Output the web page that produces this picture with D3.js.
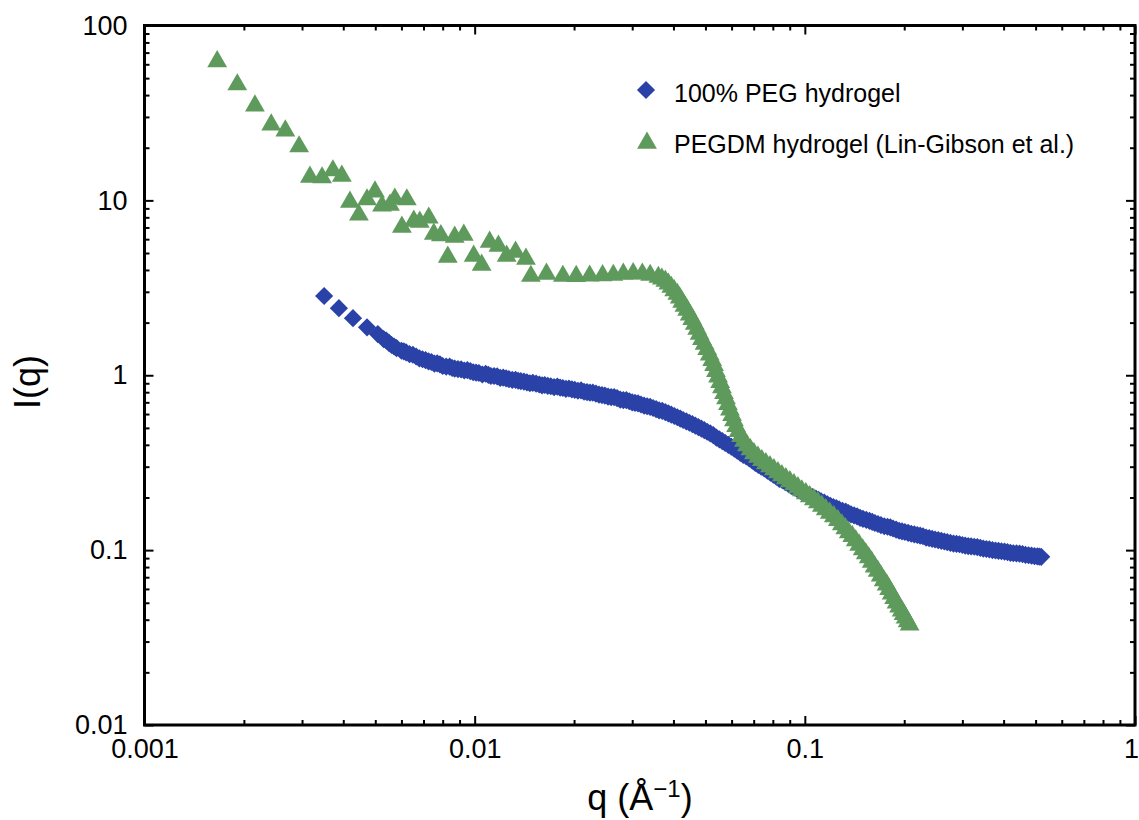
<!DOCTYPE html>
<html>
<head>
<meta charset="utf-8">
<script src="https://cdn.jsdelivr.net/npm/d3@7"></script>
<style>
  html, body { margin: 0; padding: 0; background: #ffffff; }
  svg { display: block; }
  text { font-family: "Liberation Sans", Arial, Helvetica, sans-serif; fill: #000; }
</style>
</head>
<body>
<svg id="chart" width="1139" height="820"></svg>
<script>
// ---------------- DATA ----------------
const seriesNames = ["100% PEG hydrogel", "PEGDM hydrogel (Lin-Gibson et al.)"];

const xTickValues = [0.001, 0.01, 0.1, 1];
const xTickLabels = ["0.001", "0.01", "0.1", "1"];
const yTickValues = [0.01, 0.1, 1, 10, 100];
const yTickLabels = ["0.01", "0.1", "1", "10", "100"];

// 100% PEG hydrogel (blue diamonds)
const pegQ = [0.0035, 0.00388, 0.00428, 0.00472, 0.00509, 0.0053, 0.0055, 0.0057, 0.0060, 0.0062,
  0.0065, 0.0068, 0.0071, 0.0074, 0.0077, 0.0080, 0.0084, 0.0087, 0.0091, 0.0095,
  0.0099, 0.0103, 0.0108, 0.0112, 0.0117, 0.0122, 0.0127, 0.0133, 0.0138, 0.0144,
  0.0150, 0.0157, 0.0163, 0.0170, 0.0178, 0.0185, 0.0193, 0.0201, 0.0210, 0.0219,
  0.0228, 0.0238, 0.0248, 0.0259, 0.0270, 0.0282, 0.0294, 0.0306, 0.0319, 0.0333,
  0.0347, 0.0362, 0.0378, 0.0394, 0.0411, 0.0428, 0.0447, 0.0466, 0.0486, 0.0506,
  0.0528, 0.0551, 0.0574, 0.0599, 0.0624, 0.0651, 0.0679, 0.0708, 0.0738, 0.0770,
  0.0803, 0.0837, 0.0873, 0.0910, 0.0949, 0.0990, 0.103, 0.108, 0.112, 0.117,
  0.122, 0.127, 0.133, 0.138, 0.144, 0.150, 0.157, 0.163, 0.170, 0.178,
  0.185, 0.193, 0.201, 0.210, 0.219, 0.228, 0.238, 0.248, 0.259, 0.270,
  0.282, 0.294, 0.306, 0.319, 0.333, 0.347, 0.362, 0.378, 0.394, 0.411,
  0.428, 0.447, 0.466, 0.486, 0.506, 0.52];
const pegI = [2.84, 2.42, 2.12, 1.88, 1.72, 1.61, 1.53, 1.46, 1.38, 1.35,
  1.31, 1.25, 1.22, 1.19, 1.17, 1.13, 1.12, 1.09, 1.08, 1.07,
  1.04, 1.03, 1.02, 0.99, 0.985, 0.97, 0.95, 0.94, 0.925, 0.91,
  0.905, 0.885, 0.88, 0.865, 0.86, 0.845, 0.84, 0.825, 0.82, 0.80,
  0.795, 0.775, 0.765, 0.75, 0.74, 0.72, 0.71, 0.695, 0.68, 0.665,
  0.65, 0.63, 0.615, 0.595, 0.575, 0.555, 0.535, 0.515, 0.495, 0.475,
  0.455, 0.43, 0.41, 0.39, 0.37, 0.35, 0.335, 0.315, 0.30, 0.285,
  0.27, 0.255, 0.245, 0.233, 0.223, 0.214, 0.206, 0.197, 0.19, 0.183,
  0.176, 0.171, 0.166, 0.16, 0.156, 0.151, 0.147, 0.143, 0.139, 0.136,
  0.133, 0.129, 0.127, 0.124, 0.122, 0.12, 0.117, 0.115, 0.113, 0.111,
  0.109, 0.108, 0.106, 0.105, 0.104, 0.102, 0.101, 0.0995, 0.0985, 0.0975,
  0.096, 0.0955, 0.094, 0.093, 0.092, 0.0915];
// in-between PEG points (dense part of the band)
const pegQ2 = [0.0054, 0.0056, 0.0058, 0.0061, 0.00635, 0.00665, 0.00695, 0.00725, 0.00755, 0.00785,
  0.0082, 0.00855, 0.0089, 0.0093, 0.0097, 0.0101, 0.01055, 0.0110, 0.01145, 0.01195,
  0.01245, 0.0130, 0.01355, 0.0141, 0.0147, 0.01535, 0.0160, 0.01665, 0.0174, 0.01815,
  0.0189, 0.0197, 0.02055, 0.02145, 0.02235, 0.0233, 0.0243, 0.02535, 0.02645, 0.0276,
  0.0288, 0.0300, 0.03125, 0.0326, 0.0340, 0.03545, 0.0370, 0.0386, 0.04025, 0.04195,
  0.04375, 0.04565, 0.0476, 0.0496, 0.0517, 0.05395, 0.05625, 0.05865, 0.06115, 0.06375,
  0.0665, 0.06935, 0.0723, 0.0754, 0.07865, 0.082, 0.0855, 0.08915, 0.09295, 0.09695,
  0.101, 0.1055, 0.110, 0.1145, 0.1195, 0.1245, 0.130, 0.1355, 0.141, 0.147,
  0.1535, 0.160, 0.1665, 0.174, 0.1815, 0.189, 0.197, 0.2055, 0.2145, 0.2235,
  0.233, 0.243, 0.2535, 0.2645, 0.276, 0.288, 0.300, 0.3125, 0.326, 0.340,
  0.3545, 0.370, 0.386, 0.4025, 0.4195, 0.4375, 0.4565, 0.476, 0.496, 0.513];
const pegI2 = [1.58, 1.49, 1.43, 1.37, 1.32, 1.28, 1.235, 1.20, 1.165, 1.155,
  1.12, 1.10, 1.085, 1.065, 1.055, 1.035, 1.01, 1.005, 0.99, 0.965,
  0.96, 0.94, 0.93, 0.92, 0.90, 0.895, 0.875, 0.87, 0.855, 0.85,
  0.835, 0.83, 0.815, 0.805, 0.795, 0.785, 0.77, 0.755, 0.75, 0.725,
  0.72, 0.70, 0.69, 0.67, 0.66, 0.64, 0.625, 0.605, 0.585, 0.565,
  0.545, 0.525, 0.505, 0.485, 0.465, 0.44, 0.42, 0.40, 0.38, 0.36,
  0.343, 0.325, 0.307, 0.293, 0.277, 0.263, 0.251, 0.239, 0.228, 0.218,
  0.21, 0.201, 0.194, 0.187, 0.179, 0.174, 0.168, 0.163, 0.158, 0.153,
  0.149, 0.145, 0.141, 0.137, 0.135, 0.131, 0.128, 0.1255, 0.123, 0.121,
  0.118, 0.116, 0.114, 0.112, 0.110, 0.1085, 0.107, 0.1055, 0.1045, 0.103,
  0.1015, 0.1, 0.099, 0.098, 0.0965, 0.0958, 0.0948, 0.0935, 0.0925, 0.0918];

// PEGDM hydrogel (green triangles)
const pegdmQ = [0.00166, 0.00191, 0.00216, 0.00242, 0.00267, 0.00294, 0.00317, 0.00345, 0.00372, 0.00396,
  0.00419, 0.00446, 0.00472, 0.00499, 0.00524, 0.00554, 0.00573, 0.00623, 0.00602, 0.00654,
  0.00682, 0.00726, 0.00752, 0.00790, 0.00829, 0.00870, 0.00927, 0.00993, 0.0105, 0.0111,
  0.0118, 0.0125, 0.0133, 0.0143, 0.0148, 0.0165, 0.0185, 0.0203, 0.0223, 0.0244,
  0.0263, 0.0282, 0.0302, 0.0322, 0.0340, 0.0360, 0.0378, 0.0394, 0.0411, 0.0425,
  0.0440, 0.0456, 0.0472, 0.0488, 0.0506, 0.0524, 0.0538, 0.0554, 0.0569, 0.0585,
  0.0602, 0.0619, 0.0641, 0.0668, 0.0701, 0.0741, 0.0784, 0.0829, 0.0876, 0.0927,
  0.0979, 0.1035, 0.1095, 0.1157, 0.1224, 0.1294, 0.1358, 0.1426, 0.1497, 0.1561,
  0.1627, 0.1697, 0.1769, 0.1832, 0.1896, 0.1964, 0.2019, 0.2076];
const pegdmI = [62.2, 45.9, 34.8, 27.1, 25.0, 20.3, 13.6, 13.5, 14.8, 13.8,
  9.80, 8.26, 10.1, 11.2, 9.30, 9.42, 10.2, 10.1, 7.05, 7.63,
  7.53, 7.94, 6.43, 6.30, 4.75, 6.18, 6.34, 4.81, 4.27, 5.78,
  5.49, 4.81, 5.07, 4.62, 3.69, 3.79, 3.69, 3.68, 3.70, 3.72,
  3.74, 3.79, 3.82, 3.80, 3.74, 3.64, 3.46, 3.19, 2.91, 2.62,
  2.36, 2.09, 1.835, 1.608, 1.409, 1.219, 1.054, 0.912, 0.789, 0.682,
  0.590, 0.510, 0.447, 0.397, 0.357, 0.326, 0.301, 0.278, 0.257, 0.2373,
  0.219, 0.2025, 0.1872, 0.1706, 0.1556, 0.140, 0.126, 0.1134, 0.1007, 0.0906,
  0.0804, 0.0714, 0.0634, 0.0563, 0.050, 0.045, 0.041, 0.0374];
// in-between PEGDM points (dense falling part)
const pegdmQ2 = [0.0369, 0.0386, 0.0402, 0.0418, 0.0432, 0.0448, 0.0464, 0.0480, 0.0497, 0.0515,
  0.0531, 0.0546, 0.0561, 0.0577, 0.0593, 0.0610, 0.0630, 0.0654, 0.0684, 0.0721,
  0.0762, 0.0806, 0.0852, 0.0901, 0.0953, 0.1007, 0.1065, 0.1126, 0.1190, 0.1259,
  0.1326, 0.1392, 0.1461, 0.1529, 0.1594, 0.1662, 0.1733, 0.1800, 0.1864, 0.1930,
  0.1991, 0.2048];
const pegdmI2 = [3.56, 3.33, 3.05, 2.77, 2.49, 2.22, 1.96, 1.72, 1.51, 1.31,
  1.14, 0.98, 0.85, 0.735, 0.635, 0.55, 0.478, 0.42, 0.376, 0.341,
  0.313, 0.289, 0.267, 0.247, 0.228, 0.211, 0.195, 0.179, 0.163, 0.148,
  0.133, 0.12, 0.107, 0.0955, 0.0855, 0.076, 0.067, 0.0598, 0.0531, 0.0475,
  0.043, 0.039];

// ---------------- CHART ----------------
const svg = d3.select("#chart");
const plotLeft = 144.5, plotRight = 1135, plotTop = 25.5, plotBottom = 725;
const blue = "#2a42a8", green = "#5f9a5d";

const x = d3.scaleLog().domain([0.001, 1]).range([plotLeft, plotRight]);
const y = d3.scaleLog().domain([0.01, 100]).range([plotBottom, plotTop]);

function minorTicks(scale) {
  const [a, b] = scale.domain();
  return scale.ticks().filter(v => {
    const m = v / Math.pow(10, Math.floor(Math.log10(v) + 1e-9));
    return Math.abs(m - 1) > 1e-6 && v > a && v < b;
  });
}
const xMinor = minorTicks(x);
const yMinor = minorTicks(y);

function styleAxis(g) {
  g.select(".domain").remove();
  g.selectAll(".tick line").attr("stroke", "#000").attr("stroke-width", 2);
  g.selectAll(".tick text").style("font-size", "27px").attr("fill", "#000")
    .style("font-family", '"Liberation Sans", Arial, sans-serif');
}

// bottom axis with labels
const xAxisG = svg.append("g").attr("transform", `translate(0,${plotBottom})`)
  .call(d3.axisBottom(x).tickValues(xTickValues).tickSize(-9).tickPadding(14)
    .tickFormat((d, i) => xTickLabels[i]))
  .call(styleAxis);
// the last label sits right at the window edge, as in the original
xAxisG.selectAll(".tick text").filter(d => d === 1).attr("dx", -4);
svg.append("g").attr("transform", `translate(0,${plotBottom})`)
  .call(d3.axisBottom(x).tickValues(xMinor).tickSize(-5).tickFormat(""))
  .call(styleAxis);
// top mirror
svg.append("g").attr("transform", `translate(0,${plotTop})`)
  .call(d3.axisTop(x).tickValues(xTickValues).tickSize(-9).tickFormat(""))
  .call(styleAxis);
svg.append("g").attr("transform", `translate(0,${plotTop})`)
  .call(d3.axisTop(x).tickValues(xMinor).tickSize(-5).tickFormat(""))
  .call(styleAxis);
// left axis with labels
svg.append("g").attr("transform", `translate(${plotLeft},0)`)
  .call(d3.axisLeft(y).tickValues(yTickValues).tickSize(-9).tickPadding(17)
    .tickFormat((d, i) => yTickLabels[i]))
  .call(styleAxis);
svg.append("g").attr("transform", `translate(${plotLeft},0)`)
  .call(d3.axisLeft(y).tickValues(yMinor).tickSize(-5).tickFormat(""))
  .call(styleAxis);
// right mirror
svg.append("g").attr("transform", `translate(${plotRight},0)`)
  .call(d3.axisRight(y).tickValues(yTickValues).tickSize(-9).tickFormat(""))
  .call(styleAxis);
svg.append("g").attr("transform", `translate(${plotRight},0)`)
  .call(d3.axisRight(y).tickValues(yMinor).tickSize(-5).tickFormat(""))
  .call(styleAxis);

// frame
svg.append("rect").attr("x", plotLeft).attr("y", plotTop)
  .attr("width", plotRight - plotLeft).attr("height", plotBottom - plotTop)
  .attr("fill", "none").attr("stroke", "#000").attr("stroke-width", 3);

// markers
const diamond = d3.symbol().type(d3.symbolSquare).size(165)();
const triangle = d3.symbol().type(d3.symbolTriangle).size(170)();

const pegData = pegQ.concat(pegQ2).map((q, i) => ({ q, I: pegI.concat(pegI2)[i] }));
const pegdmData = pegdmQ.concat(pegdmQ2).map((q, i) => ({ q, I: pegdmI.concat(pegdmI2)[i] }));

svg.append("g").selectAll("path").data(pegData).join("path")
  .attr("d", diamond)
  .attr("transform", d => `translate(${x(d.q)},${y(d.I)}) rotate(45)`)
  .attr("fill", blue);

svg.append("g").selectAll("path").data(pegdmData).join("path")
  .attr("d", triangle)
  .attr("transform", d => `translate(${x(d.q)},${y(d.I)})`)
  .attr("fill", green);

// legend
const legend = svg.append("g");
legend.append("path").attr("d", diamond).attr("transform", "translate(646,90) rotate(45)").attr("fill", blue);
legend.append("text").attr("x", 674).attr("y", 102).style("font-size", "25px").text(seriesNames[0]);
legend.append("path").attr("d", triangle).attr("transform", "translate(647,143)").attr("fill", green);
legend.append("text").attr("x", 674).attr("y", 153).style("font-size", "25px").text(seriesNames[1]);

// axis titles
const xt = svg.append("text").attr("x", 640).attr("y", 810).attr("text-anchor", "middle")
  .style("font-size", "36px");
xt.append("tspan").text("q (Å");
xt.append("tspan").attr("dy", -13).style("font-size", "24px").text("−1");
xt.append("tspan").attr("dy", 13).text(")");

svg.append("text").attr("transform", "translate(40,382) rotate(-90)")
  .attr("text-anchor", "middle").style("font-size", "36px").text("I(q)");
</script>
</body>
</html>
